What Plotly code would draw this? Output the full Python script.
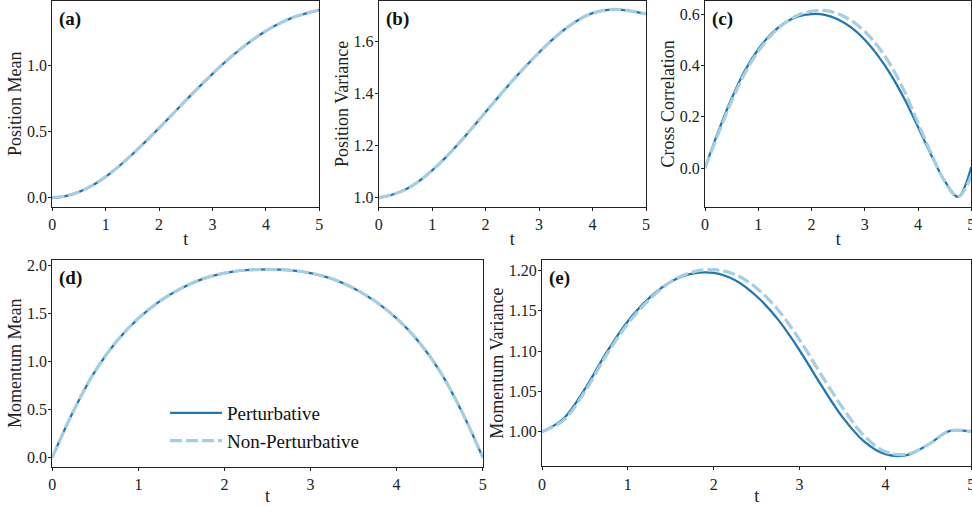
import plotly.graph_objects as go

# Time grid shared by all panels
t = [0.0, 0.25, 0.5, 0.75, 1.0, 1.25, 1.5, 1.75, 2.0, 2.25, 2.5,
     2.75, 3.0, 3.25, 3.5, 3.75, 4.0, 4.25, 4.5, 4.75, 5.0]

# (a) position mean
pos_mean_pert = [0.0, 0.012, 0.043, 0.092, 0.158, 0.238, 0.328, 0.425, 0.526, 0.630, 0.735,
                 0.837, 0.936, 1.030, 1.116, 1.193, 1.260, 1.316, 1.361, 1.393, 1.418]
pos_mean_nonpert = [0.0, 0.012, 0.043, 0.092, 0.158, 0.238, 0.328, 0.425, 0.526, 0.630, 0.735,
                    0.837, 0.936, 1.030, 1.116, 1.193, 1.260, 1.316, 1.361, 1.393, 1.418]

# (b) position variance
pos_var_pert = [1.0, 1.011, 1.031, 1.063, 1.105, 1.154, 1.209, 1.268, 1.329, 1.390, 1.449,
                1.505, 1.558, 1.607, 1.650, 1.685, 1.709, 1.721, 1.723, 1.716, 1.706]
pos_var_nonpert = [1.0, 1.011, 1.031, 1.063, 1.105, 1.154, 1.209, 1.268, 1.329, 1.390, 1.449,
                   1.505, 1.558, 1.607, 1.650, 1.685, 1.709, 1.721, 1.723, 1.716, 1.706]

# (c) cross correlation
cross_pert = [0.0, 0.143, 0.271, 0.380, 0.463, 0.524, 0.566, 0.591, 0.600, 0.597, 0.579,
              0.547, 0.500, 0.437, 0.360, 0.267, 0.160, 0.050, -0.050, -0.112, 0.004]
cross_nonpert = [0.0, 0.134, 0.261, 0.370, 0.455, 0.519, 0.565, 0.596, 0.611, 0.614, 0.601,
                 0.574, 0.532, 0.473, 0.396, 0.296, 0.175, 0.055, -0.052, -0.113, -0.030]

# (d) momentum mean
mom_mean_pert = [0.0, 0.49, 0.90, 1.21, 1.445, 1.625, 1.76, 1.857, 1.917, 1.947, 1.955,
                 1.947, 1.917, 1.857, 1.76, 1.625, 1.445, 1.21, 0.90, 0.49, 0.0]
mom_mean_nonpert = [0.0, 0.49, 0.90, 1.21, 1.445, 1.625, 1.76, 1.857, 1.917, 1.947, 1.955,
                    1.947, 1.917, 1.857, 1.76, 1.625, 1.445, 1.21, 0.90, 0.49, 0.0]

# (e) momentum variance
mom_var_pert = [1.000, 1.016, 1.053, 1.098, 1.137, 1.166, 1.186, 1.196, 1.197, 1.188, 1.168,
                1.139, 1.101, 1.058, 1.018, 0.988, 0.972, 0.971, 0.984, 1.001, 1.000]
mom_var_nonpert = [1.000, 1.014, 1.050, 1.095, 1.134, 1.164, 1.186, 1.198, 1.201, 1.195, 1.178,
                   1.151, 1.114, 1.071, 1.030, 0.995, 0.975, 0.972, 0.984, 1.001, 1.000]

series_names = ["Perturbative", "Non-Perturbative"]
panel_letters = ["(a)", "(b)", "(c)", "(d)", "(e)"]
y_titles = ["Position Mean", "Position Variance", "Cross Correlation",
            "Momentum Mean", "Momentum Variance"]

W, H = 972, 506
FONT = "'Liberation Serif', 'DejaVu Serif', 'Times New Roman', serif"
SOLID = "#1f78b4"
LIGHT = "#a6cee3"
INK = "#222222"

# panel boxes in pixels: (left, right, top, bottom)
boxes = [
    (52.3, 319.3, 0.7, 207.0),
    (378.7, 646.0, 0.7, 207.0),
    (705.0, 971.3, 0.7, 207.0),
    (52.3, 482.7, 260.0, 466.7),
    (542.0, 971.3, 260.0, 466.3),
]

y_ranges = [(-0.071, 1.489), (0.964, 1.757), (-0.152, 0.652), (-0.098, 2.053), (0.957, 1.213)]
y_ticks = [
    [0.0, 0.5, 1.0],
    [1.0, 1.2, 1.4, 1.6],
    [0.0, 0.2, 0.4, 0.6],
    [0.0, 0.5, 1.0, 1.5, 2.0],
    [1.00, 1.05, 1.10, 1.15, 1.20],
]
y_fmt = [".1f", ".1f", ".1f", ".1f", ".2f"]

data_pairs = [
    (pos_mean_pert, pos_mean_nonpert),
    (pos_var_pert, pos_var_nonpert),
    (cross_pert, cross_nonpert),
    (mom_mean_pert, mom_mean_nonpert),
    (mom_var_pert, mom_var_nonpert),
]

fig = go.Figure()
layout = dict(
    width=W, height=H,
    margin=dict(l=0, r=0, t=0, b=0),
    paper_bgcolor="white", plot_bgcolor="white",
    font=dict(family=FONT, size=16, color=INK),
    showlegend=True,
    annotations=[],
)

for i, (box, (yp, yn)) in enumerate(zip(boxes, data_pairs)):
    n = "" if i == 0 else str(i + 1)
    xa, ya = "x" + n, "y" + n
    l, r, tp, bt = box
    show = (i == 3)
    fig.add_trace(go.Scatter(
        x=t, y=yp, mode="lines", name=series_names[0], xaxis=xa, yaxis=ya,
        line=dict(color=SOLID, width=2.3, shape="spline", smoothing=1.0),
        showlegend=show, legendgroup="p",
    ))
    fig.add_trace(go.Scatter(
        x=t, y=yn, mode="lines", name=series_names[1], xaxis=xa, yaxis=ya,
        line=dict(color=LIGHT, width=3.2, dash="12px,4px", shape="spline", smoothing=1.0),
        showlegend=show, legendgroup="n",
    ))
    axis_common = dict(
        showline=True, mirror=True, linecolor=INK, linewidth=1,
        ticks="outside", ticklen=3, tickwidth=0.9, tickcolor=INK,
        showgrid=False, zeroline=False, automargin=False,
        ticklabeloverflow="allow",
        tickfont=dict(family=FONT, size=16, color=INK),
    )
    layout["xaxis" + n] = dict(
        axis_common,
        domain=[l / W, r / W], anchor=ya, range=[0, 5],
        tickvals=[0, 1, 2, 3, 4, 5], tickformat="d",
        title=dict(text="t", font=dict(family=FONT, size=18, color=INK), standoff=0),
    )
    layout["yaxis" + n] = dict(
        axis_common,
        domain=[1 - bt / H, 1 - tp / H], anchor=xa, range=list(y_ranges[i]),
        tickvals=y_ticks[i], tickformat=y_fmt[i], ticklabelstandoff=-2,
        title=dict(text=y_titles[i], font=dict(family=FONT, size=18, color=INK), standoff=0),
    )
    layout["annotations"].append(dict(
        text="<b>" + panel_letters[i] + "</b>", xref=xa + " domain", yref=ya + " domain",
        x=0, y=1, xanchor="left", yanchor="top", xshift=5, yshift=-5, showarrow=False,
        font=dict(family=FONT, size=19, color="#111"),
    ))

layout["legend"] = dict(
    x=165 / W, y=1 - 394 / H, xanchor="left", yanchor="top",
    bgcolor="rgba(0,0,0,0)", borderwidth=0,
    font=dict(family=FONT, size=19, color="#111"),
    tracegroupgap=0, itemwidth=52,
)

fig.update_layout(**layout)
fig.write_html("out.html")
